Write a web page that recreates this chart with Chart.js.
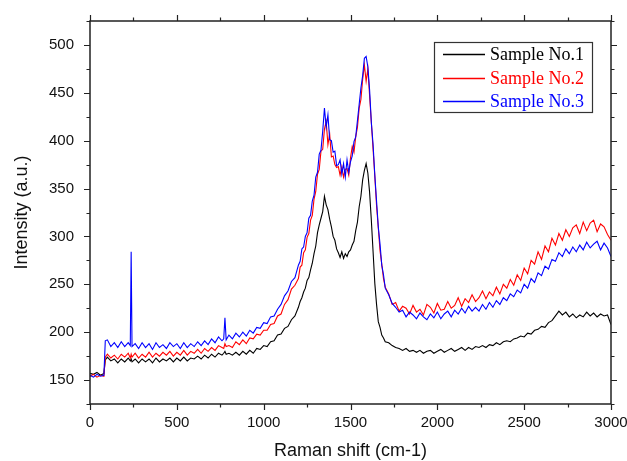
<!DOCTYPE html>
<html>
<head>
<meta charset="utf-8">
<script src="https://cdn.jsdelivr.net/npm/chart.js@4/dist/chart.umd.min.js"></script>
<style>
  html, body { margin: 0; padding: 0; background: #fff; }
  #wrap { width: 627px; height: 461px; position: relative; }
</style>
</head>
<body>
<div id="wrap"><canvas id="ramanChart"></canvas></div>
<script>
// Raman shift (cm-1) sample positions
const shift = [
  0, 20, 40, 60, 80, 88,
  100, 120, 140, 160, 180, 200, 220,
  232, 237, 242,
  260, 280, 300, 320, 340, 360, 380, 400, 420, 440, 460, 480, 500, 520, 540, 560, 580, 600, 620, 640, 660, 680, 700, 720, 740, 760,
  770, 777, 784,
  800, 820, 840, 860, 880, 900, 920, 940, 960, 980, 1000, 1020, 1040, 1060, 1080, 1100, 1120, 1140, 1160, 1180,
  1200, 1210, 1220, 1230, 1240, 1250, 1260, 1270, 1280, 1290, 1300, 1310, 1320, 1330, 1340, 1350, 1360, 1370, 1380, 1390,
  1400, 1410, 1420, 1430, 1440, 1450, 1460, 1470, 1480, 1490, 1500, 1510, 1520, 1530, 1540, 1550, 1560, 1570, 1580, 1590,
  1600, 1610, 1620, 1630, 1640, 1650, 1660, 1670, 1680, 1690, 1700,
  1720, 1740, 1760, 1780, 1800, 1820, 1840, 1860, 1880, 1900, 1920, 1940, 1960, 1980, 2000, 2020, 2040, 2060, 2080, 2100,
  2120, 2140, 2160, 2180, 2200, 2220, 2240, 2260, 2280, 2300, 2320, 2340, 2360, 2380, 2400, 2420, 2440, 2460, 2480, 2500,
  2520, 2540, 2560, 2580, 2600, 2620, 2640, 2660, 2680, 2700, 2720, 2740, 2760, 2780, 2800, 2820, 2840, 2860, 2880, 2900,
  2920, 2940, 2960, 2980, 3000
];

// Sample No.1 (black)
const sample1 = [
  157, 156, 158, 155, 157, 171,
  174, 170, 172, 168, 172, 169, 173,
  170, 172, 169,
  172, 168, 172, 169, 172, 168, 173, 169, 172, 170, 173, 169, 173, 170, 174, 170, 173, 172, 175, 172, 176, 173, 177, 174, 178, 176,
  178, 180, 177,
  178, 176, 179, 176, 180, 177, 181, 178, 183, 182, 186, 185, 190, 191, 197, 198, 204, 206, 213, 217,
  226, 232, 236, 242, 246, 254, 257, 265, 272, 282, 290, 304, 312, 319, 326, 342, 333, 328, 318, 310,
  300, 296, 287, 283, 278, 284, 277, 282, 279, 284, 286, 291, 295, 306, 315, 331, 342, 359, 369, 376,
  366, 346, 317, 284, 251, 229, 211, 205, 197, 194, 190,
  189, 186, 184, 183, 181, 183, 180, 181, 179, 181, 178, 180, 181, 178, 180, 182, 179, 181, 183, 180,
  182, 184, 181, 184, 182, 185, 184, 186, 184, 187, 186, 189, 187, 190, 191, 190, 193, 194, 196, 195,
  199, 198, 202, 203, 206, 205, 210, 212, 217, 222, 218, 221, 216, 219, 215, 218, 216, 221, 217, 220,
  216, 219, 217, 218, 208
];

// Sample No.2 (red)
const sample2 = [
  154, 156, 153, 155, 154, 174,
  177, 173, 176, 172, 177, 174, 178,
  173, 177, 174,
  178, 173, 177, 174, 179, 174, 178, 175, 179, 176, 180, 175, 179, 176, 181, 176, 180, 178, 182, 178, 183, 180, 184, 181, 186, 184,
  183, 188, 185,
  186, 184, 190, 187, 192, 188, 194, 193, 198, 197, 202, 202, 208, 209, 217, 219, 229, 234, 245, 249,
  256, 268, 270, 283, 286, 299, 303, 317, 322, 339, 347, 365, 370, 389, 391, 412, 420, 396, 407, 383,
  384, 375, 372, 373, 364, 373, 362, 370, 371, 364, 382, 394, 388, 404, 414, 434, 443, 464, 479, 462,
  475, 447, 419, 391, 363, 332, 309, 285, 271, 256, 247,
  240, 229, 231, 222, 227, 225, 219, 228, 221, 224, 218, 229, 226, 220, 230, 223, 224, 232, 225, 228,
  236, 227, 235, 231, 239, 232, 236, 243, 235, 242, 238, 247, 240, 250, 246, 255, 249, 260, 254, 267,
  261, 275, 271, 284, 276, 290, 284, 298, 291, 303, 296, 307, 300, 309, 312, 303, 315, 306, 314, 317,
  305, 313, 310, 302, 296
];

// Sample No.3 (blue)
const sample3 = [
  155, 153, 156, 154, 155, 191,
  192, 185, 189, 184, 190, 185, 189,
  186, 284, 185,
  188, 183, 189, 184, 188, 182, 189, 184, 187, 183, 189, 185, 188, 183, 189, 184, 188, 185, 190, 186, 191, 187, 193, 189, 195, 191,
  193, 215, 192,
  197, 193, 199, 195, 200, 196, 202, 199, 205, 204, 210, 209, 216, 217, 224, 229, 238, 243, 253, 257,
  270, 274, 287, 289, 300, 304, 319, 322, 337, 343, 362, 367, 386, 390, 410, 434, 414, 427, 401, 400,
  388, 389, 374, 375, 380, 365, 376, 362, 380, 367, 378, 384, 399, 404, 421, 438, 455, 468, 486, 488,
  477, 453, 419, 396, 364, 337, 310, 292, 270, 260, 246,
  239, 230, 226, 221, 223, 216, 221, 218, 214, 220, 216, 213, 219, 215, 221, 214, 219, 222, 216, 223,
  219, 225, 220, 227, 222, 226, 222, 229, 224, 231, 226, 233, 229, 236, 233, 240, 237, 244, 241, 250,
  246, 256, 252, 262, 259, 269, 266, 276, 274, 283, 279, 287, 282, 289, 284, 291, 286, 294, 288, 292,
  295, 286, 293, 288, 279
];

const seriesNames = ['Sample No.1', 'Sample No.2', 'Sample No.3'];
const seriesColors = ['#000000', '#ff0000', '#0000ff'];

const xMajor = [0, 500, 1000, 1500, 2000, 2500, 3000];
const xMinor = [250, 750, 1250, 1750, 2250, 2750];
const yMajor = [150, 200, 250, 300, 350, 400, 450, 500];
const yMinor = [125, 175, 225, 275, 325, 375, 425, 475, 525];

function pairs(values) {
  return values.map((v, i) => ({ x: shift[i], y: v }));
}

// frame, outward ticks on all four sides, and the boxed legend
const framePlugin = {
  id: 'frame',
  afterDraw(chart) {
    const ctx = chart.ctx;
    const a = chart.chartArea;
    const xs = chart.scales.x, ys = chart.scales.y;
    ctx.save();
    ctx.strokeStyle = '#222';
    ctx.lineWidth = 1.5;
    ctx.strokeRect(a.left, a.top, a.right - a.left, a.bottom - a.top);
    ctx.lineWidth = 1.2;
    ctx.beginPath();
    const tick = (vals, len) => {
      vals.forEach(v => {
        const px = Math.round(xs.getPixelForValue(v)) + 0.5;
        ctx.moveTo(px, a.bottom); ctx.lineTo(px, a.bottom + len);
        ctx.moveTo(px, a.top); ctx.lineTo(px, a.top - len);
      });
    };
    const ytick = (vals, len) => {
      vals.forEach(v => {
        const py = Math.round(ys.getPixelForValue(v)) + 0.5;
        ctx.moveTo(a.left, py); ctx.lineTo(a.left - len, py);
        ctx.moveTo(a.right, py); ctx.lineTo(a.right + len, py);
      });
    };
    tick(xMajor, 6); tick(xMinor, 3.5);
    ytick(yMajor, 6); ytick(yMinor, 3.5);
    ctx.stroke();

    // legend box
    const bx = 434, by = 42, bw = 158, bh = 70;
    ctx.fillStyle = '#fff';
    ctx.fillRect(bx, by, bw, bh);
    ctx.strokeStyle = '#333';
    ctx.lineWidth = 1.2;
    ctx.strokeRect(bx + 0.5, by + 0.5, bw, bh);
    ctx.font = '18px "Liberation Serif", "Times New Roman", serif';
    ctx.textBaseline = 'middle';
    seriesNames.forEach((name, i) => {
      const ry = Math.round(by + 12 + i * 23.5) + 0.5;
      ctx.strokeStyle = seriesColors[i];
      ctx.lineWidth = 1.3;
      ctx.beginPath();
      ctx.moveTo(443, ry); ctx.lineTo(485, ry);
      ctx.stroke();
      ctx.fillStyle = seriesColors[i];
      ctx.fillText(name, 490, ry + 1);
    });
    ctx.restore();
  }
};

const sets = [sample1, sample2, sample3].map((vals, i) => ({
  label: seriesNames[i],
  data: pairs(vals),
  borderColor: seriesColors[i],
  backgroundColor: seriesColors[i],
  borderWidth: 1.1,
  pointRadius: 0,
  tension: 0,
  order: 2 - i
}));

const noPad = s => { s.paddingLeft = 0; s.paddingRight = 0; s.paddingTop = 0; s.paddingBottom = 0; };

new Chart(document.getElementById('ramanChart'), {
  type: 'line',
  data: { datasets: sets },
  options: {
    responsive: true,
    maintainAspectRatio: false,
    animation: false,
    layout: { padding: { top: 21, right: 16, left: 0, bottom: 0 } },
    plugins: { legend: { display: false }, tooltip: { enabled: false } },
    scales: {
      x: {
        type: 'linear',
        min: 0,
        max: 3000,
        afterFit: s => { s.height = 57; noPad(s); },
        afterBuildTicks: s => { s.ticks = xMajor.map(v => ({ value: v })); },
        grid: { display: false, drawTicks: false },
        border: { display: false },
        ticks: {
          padding: 10,
          color: '#111',
          font: { family: '"Liberation Sans", Arial, sans-serif', size: 15 },
          maxRotation: 0,
          callback: v => String(v)
        },
        title: {
          display: true,
          text: 'Raman shift (cm-1)',
          color: '#111',
          font: { family: '"Liberation Sans", Arial, sans-serif', size: 18, lineHeight: 1.1 },
          padding: { top: 0, bottom: 0 }
        }
      },
      y: {
        type: 'linear',
        min: 125,
        max: 525,
        afterFit: s => { s.width = 90; noPad(s); },
        afterBuildTicks: s => { s.ticks = yMajor.map(v => ({ value: v })); },
        grid: { display: false, drawTicks: false },
        border: { display: false },
        ticks: {
          padding: 16,
          color: '#111',
          font: { family: '"Liberation Sans", Arial, sans-serif', size: 15 }
        },
        title: {
          display: true,
          text: 'Intensity (a.u.)',
          color: '#111',
          font: { family: '"Liberation Sans", Arial, sans-serif', size: 18, lineHeight: 1.2 },
          padding: { top: 11, bottom: 0 }
        }
      }
    }
  },
  plugins: [framePlugin]
});
</script>
</body>
</html>
